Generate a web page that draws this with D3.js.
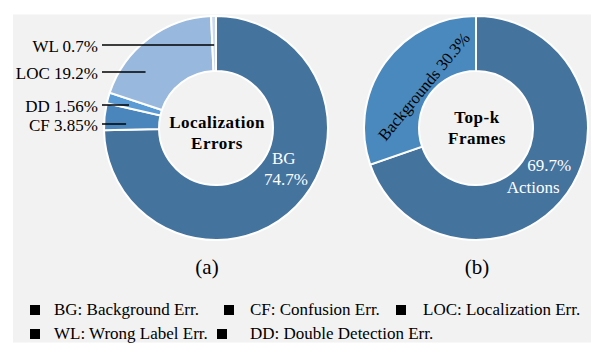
<!DOCTYPE html>
<html>
<head>
<meta charset="utf-8">
<script src="https://cdn.jsdelivr.net/npm/d3@7"></script>
<style>
  html, body { margin: 0; padding: 0; background: #ffffff; }
  svg text { font-family: "Liberation Serif", "Times New Roman", serif; }
</style>
</head>
<body>
<svg id="chart" width="600" height="355"></svg>
<script>
// ---- data ----
const errCategories = ["BG", "CF", "DD", "LOC", "WL"];
const errValues = [74.7, 3.85, 1.56, 19.2, 0.7];
const errValueLabels = ["74.7%", "3.85%", "1.56%", "19.2%", "0.7%"];
const frameCategories = ["Actions", "Backgrounds"];
const frameValues = [69.7, 30.3];
const frameValueLabels = ["69.7%", "30.3%"];
const centerTitles = [["Localization", "Errors"], ["Top-k", "Frames"]];
const panelCaptions = ["(a)", "(b)"];
const legendItems = ["BG: Background Err.", "CF: Confusion Err.", "LOC: Localization Err.",
                     "WL: Wrong Label Err.", "DD: Double Detection Err."];

// ---- style / layout ----
const errColors = { BG: "#44739e", CF: "#4a86bc", DD: "#5a9bd5", LOC: "#98b8de", WL: "#c9d9ef" };
const frameColors = { Actions: "#44739e", Backgrounds: "#4a89be" };
const panelFill = "#f2f2f2";
const R = 112, r = 57;
const centers = [{ x: 216, y: 128 }, { x: 476, y: 128 }];
const leaderY = { CF: 124, DD: 105, LOC: 72, WL: 45 };
const leaderTextX = 98, leaderStartX = 102, leaderR = 90;
const legendLayout = [
  { sx: 30, tx: 54, y: 315 }, { sx: 224, tx: 250, y: 315 }, { sx: 396, tx: 423, y: 315 },
  { sx: 30, tx: 54, y: 339 }, { sx: 217, tx: 250, y: 339 }
];

const svg = d3.select("#chart");

svg.append("rect").attr("x", 13).attr("y", 14.5).attr("width", 578).attr("height", 328)
  .attr("fill", panelFill);

const pie = d3.pie().sort(null).value(d => d.v);
const arc = d3.arc().innerRadius(r).outerRadius(R);

// ---- donut (a) ----
const errData = errCategories.map((c, i) => ({ c, v: errValues[i], lab: errValueLabels[i] }));
const errArcs = pie(errData);
const gA = svg.append("g").attr("transform", `translate(${centers[0].x},${centers[0].y})`);
gA.selectAll("path").data(errArcs).join("path")
  .attr("d", arc)
  .attr("fill", d => errColors[d.data.c])
  .attr("stroke", "#ffffff").attr("stroke-width", 2);

// leader labels
const leaders = errArcs.filter(d => d.data.c !== "BG").map(d => {
  const y = leaderY[d.data.c];
  const dy = y - centers[0].y;
  let x = -Math.sqrt(Math.max(0, leaderR * leaderR - dy * dy));
  let th = Math.atan2(x, -dy); if (th < 0) th += 2 * Math.PI;
  if (th < d.startAngle || th > d.endAngle) {
    const mid = (d.startAngle + d.endAngle) / 2;
    const t = -dy / Math.cos(mid);
    x = t * Math.sin(mid);
  }
  return { d, y, x2: centers[0].x + x };
});
svg.selectAll("line.leader").data(leaders).join("line").attr("class", "leader")
  .attr("x1", leaderStartX).attr("x2", d => d.x2)
  .attr("y1", d => d.y).attr("y2", d => d.y)
  .attr("stroke", "#000").attr("stroke-width", 1.5);
svg.selectAll("text.leader").data(leaders).join("text").attr("class", "leader")
  .attr("x", leaderTextX).attr("y", d => d.y + 6.5)
  .attr("text-anchor", "end").attr("font-size", 17).attr("fill", "#000")
  .text(d => d.d.data.c + " " + d.d.data.lab);

// BG label inside
const bg = errArcs[0];
const bgAng = 121 * Math.PI / 180, bgRad = 78;
const bgP = [bgRad * Math.sin(bgAng), -bgRad * Math.cos(bgAng)];
const bgT = gA.append("text").attr("fill", "#fff").attr("font-size", 17).attr("text-anchor", "middle");
bgT.append("tspan").attr("x", bgP[0] + 1).attr("y", bgP[1] - 4).text(bg.data.c);
bgT.append("tspan").attr("x", bgP[0] + 3).attr("y", bgP[1] + 17).text(bg.data.lab);

// ---- donut (b) ----
const frData = frameCategories.map((c, i) => ({ c, v: frameValues[i], lab: frameValueLabels[i] }));
const frArcs = pie(frData);
const gB = svg.append("g").attr("transform", `translate(${centers[1].x},${centers[1].y})`);
gB.selectAll("path").data(frArcs).join("path")
  .attr("d", arc)
  .attr("fill", d => frameColors[d.data.c])
  .attr("stroke", "#ffffff").attr("stroke-width", 2);

const act = frArcs[0];
const actMid = (act.startAngle + act.endAngle) / 2, actRad = 80;
const aP = [actRad * Math.sin(actMid), -actRad * Math.cos(actMid)];
const aT = gB.append("text").attr("fill", "#fff").attr("font-size", 17).attr("text-anchor", "middle");
aT.append("tspan").attr("x", aP[0] + 8).attr("y", aP[1] - 3.5).text(act.data.lab);
aT.append("tspan").attr("x", aP[0] - 8).attr("y", aP[1] + 18.5).text(act.data.c);

const bk = frArcs[1];
const bkMid = (bk.startAngle + bk.endAngle) / 2 + 3 * Math.PI / 180, bkRad = 61;
const bkDeg = bkMid * 180 / Math.PI - 360 + 1;
gB.append("text")
  .attr("transform", `translate(${bkRad * Math.sin(bkMid)},${-bkRad * Math.cos(bkMid)}) rotate(${bkDeg})`)
  .attr("text-anchor", "middle").attr("font-size", 16.5).attr("fill", "#000")
  .text(bk.data.c + " " + bk.data.lab);

// ---- center titles ----
const titleBase = [[0, 21], [-5, 16]];
centerTitles.forEach((lines, i) => {
  const t = svg.append("text").attr("text-anchor", "middle").attr("font-size", 17)
    .attr("font-weight", "bold").attr("letter-spacing", 0.5).attr("fill", "#000");
  lines.forEach((ln, j) => {
    t.append("tspan").attr("x", centers[i].x + 1).attr("y", centers[i].y + titleBase[i][j]).text(ln);
  });
});

// ---- captions ----
svg.selectAll("text.cap").data(panelCaptions).join("text").attr("class", "cap")
  .attr("x", (d, i) => centers[i].x - 9 + i * 10).attr("y", 274)
  .attr("text-anchor", "middle").attr("font-size", 21).attr("fill", "#000")
  .text(d => d);

// ---- legend ----
const leg = svg.selectAll("g.leg").data(legendItems).join("g").attr("class", "leg");
leg.append("rect")
  .attr("x", (d, i) => legendLayout[i].sx).attr("y", (d, i) => legendLayout[i].y - 10)
  .attr("width", 10).attr("height", 10).attr("fill", "#000");
leg.append("text")
  .attr("x", (d, i) => legendLayout[i].tx).attr("y", (d, i) => legendLayout[i].y)
  .attr("font-size", 17).attr("fill", "#000")
  .text(d => d);
</script>
</body>
</html>
